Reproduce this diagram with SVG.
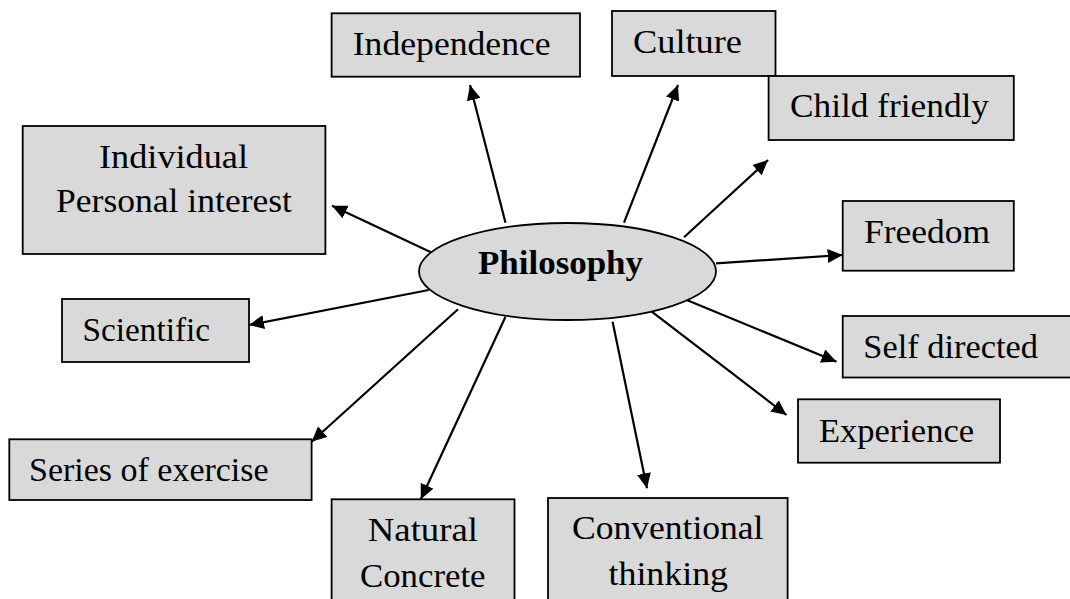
<svg xmlns="http://www.w3.org/2000/svg" width="1070" height="599" viewBox="0 0 1070 599">
<style>
.box{fill:#d9d9d9;stroke:#000;stroke-width:1.8}
.t{font-family:"Liberation Serif","DejaVu Serif",serif;font-size:33px;fill:#000}
.c{text-anchor:middle}
.b{font-weight:bold}
.conn line{stroke:#000;stroke-width:2.2;marker-end:url(#ah)}
</style>
<defs>
<marker id="ah" markerUnits="userSpaceOnUse" markerWidth="16" markerHeight="14" refX="15" refY="7" orient="auto">
<path d="M0,0 L15,7 L0,14 Z" fill="#000"/>
</marker>
</defs>
<rect width="1070" height="599" fill="#fff"/>
<g class="conn">
<line x1="505.5" y1="222.7" x2="470" y2="85"/>
<line x1="432" y1="252.7" x2="332" y2="205.7"/>
<line x1="624" y1="222.7" x2="678" y2="85"/>
<line x1="684" y1="237.3" x2="768" y2="160"/>
<line x1="716" y1="263.3" x2="842.7" y2="255"/>
<line x1="428.7" y1="290" x2="249" y2="325"/>
<line x1="458" y1="309.3" x2="311.6" y2="441.7"/>
<line x1="505.5" y1="316.7" x2="420.8" y2="499.3"/>
<line x1="612.6" y1="321.7" x2="647" y2="488.3"/>
<line x1="648.8" y1="309.3" x2="786.5" y2="415"/>
<line x1="686.7" y1="300" x2="836.5" y2="361.7"/>
</g>
<g id="philosophy">
<ellipse class="box" cx="567.5" cy="271.5" rx="148.5" ry="48.5"/>
<text class="t b" x="478" y="274.3" textLength="165" lengthAdjust="spacingAndGlyphs">Philosophy</text>
</g>
<g id="independence">
<rect class="box" x="331.6" y="13.3" width="248.4" height="63.4"/>
<text class="t" x="352.7" y="55" textLength="198" lengthAdjust="spacingAndGlyphs">Independence</text>
</g>
<g id="culture">
<rect class="box" x="612" y="11" width="163.5" height="65"/>
<text class="t" x="633" y="53.3" textLength="109" lengthAdjust="spacingAndGlyphs">Culture</text>
</g>
<g id="child-friendly">
<rect class="box" x="768.6" y="76" width="245.2" height="64"/>
<text class="t" x="790" y="116.7" textLength="199" lengthAdjust="spacingAndGlyphs">Child friendly</text>
</g>
<g id="freedom">
<rect class="box" x="842.7" y="201" width="171.1" height="69.7"/>
<text class="t" x="864" y="243.3" textLength="126" lengthAdjust="spacingAndGlyphs">Freedom</text>
</g>
<g id="individual">
<rect class="box" x="22.7" y="126" width="302.7" height="128"/>
<text class="t" x="99" y="168.3" textLength="149" lengthAdjust="spacingAndGlyphs">Individual</text>
<text class="t" x="56" y="212.3" textLength="236" lengthAdjust="spacingAndGlyphs">Personal interest</text>
</g>
<g id="scientific">
<rect class="box" x="62" y="299" width="187" height="63"/>
<text class="t" x="82.6" y="341" textLength="127.4" lengthAdjust="spacingAndGlyphs">Scientific</text>
</g>
<g id="series-of-exercise">
<rect class="box" x="9.3" y="439.3" width="302.3" height="60.7"/>
<text class="t" x="29" y="481" textLength="239.6" lengthAdjust="spacingAndGlyphs">Series of exercise</text>
</g>
<g id="natural-concrete">
<rect class="box" x="331.6" y="499.3" width="182.9" height="110"/>
<text class="t" x="367.8" y="541" textLength="110.2" lengthAdjust="spacingAndGlyphs">Natural</text>
<text class="t" x="360" y="586.7" textLength="125.5" lengthAdjust="spacingAndGlyphs">Concrete</text>
</g>
<g id="conventional-thinking">
<rect class="box" x="548" y="498" width="239.6" height="110"/>
<text class="t" x="572" y="539.3" textLength="191.5" lengthAdjust="spacingAndGlyphs">Conventional</text>
<text class="t" x="608.5" y="585" textLength="119.5" lengthAdjust="spacingAndGlyphs">thinking</text>
</g>
<g id="self-directed">
<rect class="box" x="842.7" y="316" width="240" height="61.5"/>
<text class="t" x="863.3" y="358" textLength="174.7" lengthAdjust="spacingAndGlyphs">Self directed</text>
</g>
<g id="experience">
<rect class="box" x="798" y="399.3" width="202" height="63.4"/>
<text class="t" x="819" y="442.3" textLength="155" lengthAdjust="spacingAndGlyphs">Experience</text>
</g>
</svg>
